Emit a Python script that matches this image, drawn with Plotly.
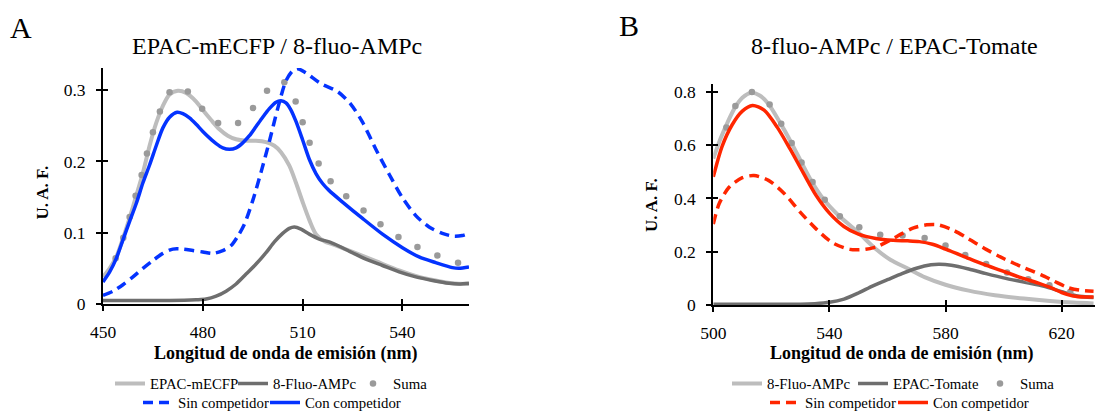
import plotly.graph_objects as go

# ---------------- Panel A data (EPAC-mECFP / 8-fluo-AMPc) ----------------
a_mecfp_x = [450, 452, 454, 456, 458, 460, 462, 464, 466, 468, 470, 472.5, 475, 478, 480, 482.5, 485, 487.5,
             490, 493, 496, 499, 501.5, 503.5, 506, 508, 510, 512, 514, 516.5, 519.5, 525, 532, 539, 545, 550, 555, 560]
a_mecfp_y = [0.038, 0.050, 0.066, 0.092, 0.121, 0.152, 0.184, 0.222, 0.254, 0.278, 0.294, 0.299, 0.296, 0.284,
             0.272, 0.258, 0.245, 0.236, 0.231, 0.229, 0.229, 0.227, 0.222, 0.213, 0.194, 0.170, 0.143, 0.118,
             0.098, 0.088, 0.083, 0.073, 0.060, 0.047, 0.038, 0.033, 0.029, 0.028]

a_fluo_x = [450, 460, 470, 478, 481, 484, 487, 490, 493, 496, 499, 501.5, 504, 506, 507.5, 509.5, 512, 515, 518,
            521, 524, 529, 534, 539, 544, 549, 554, 557, 560]
a_fluo_y = [0.005, 0.005, 0.005, 0.006, 0.007, 0.011, 0.018, 0.028, 0.042, 0.056, 0.072, 0.087, 0.099, 0.106,
            0.108, 0.105, 0.098, 0.091, 0.087, 0.081, 0.074, 0.063, 0.054, 0.045, 0.038, 0.033, 0.029, 0.028, 0.029]

a_suma_x = [453.8, 456.1, 458.0, 459.8, 461.6, 463.2, 465.0, 467.1, 470.0, 475.5, 479.8, 484.6, 490.6, 495.1,
            499.3, 504.5, 507.9, 510.0, 512.1, 514.8, 518.4, 523.1, 528.3, 533.4, 538.8, 544.5, 550.5, 556.7]
a_suma_y = [0.064, 0.093, 0.122, 0.152, 0.181, 0.211, 0.241, 0.270, 0.297, 0.298, 0.274, 0.254, 0.254, 0.275,
            0.299, 0.311, 0.284, 0.255, 0.226, 0.197, 0.172, 0.151, 0.131, 0.112, 0.094, 0.080, 0.068, 0.058]

a_sin_x = [450, 453, 456, 459, 462, 465, 468, 471, 474, 477, 480, 483, 486, 488.5, 490.5, 492.5, 495, 497.5, 500,
           502.5, 505, 507, 508.5, 511, 515.5, 520.5, 524.5, 528, 532, 536, 540, 544, 548, 552, 555.5, 558, 560]
a_sin_y = [0.012, 0.018, 0.027, 0.038, 0.050, 0.061, 0.071, 0.077, 0.077, 0.075, 0.073, 0.071, 0.075, 0.082,
           0.095, 0.112, 0.145, 0.185, 0.228, 0.274, 0.313, 0.327, 0.330, 0.324, 0.309, 0.298, 0.280, 0.255,
           0.217, 0.182, 0.149, 0.124, 0.108, 0.099, 0.095, 0.096, 0.099]

a_con_x = [450, 452, 454, 456, 458, 460, 462, 464, 466, 468, 470, 472.3, 474, 476, 478, 480, 482, 484, 486, 488,
           490, 492, 494, 496, 498, 500, 502, 503.5, 505, 506.5, 508, 510, 512, 514, 516, 518, 522, 528, 534, 540,
           545, 550, 555, 557, 560]
a_con_y = [0.031, 0.045, 0.064, 0.090, 0.116, 0.141, 0.170, 0.195, 0.222, 0.247, 0.262, 0.269, 0.267, 0.261,
           0.252, 0.242, 0.233, 0.225, 0.219, 0.217, 0.219, 0.226, 0.236, 0.249, 0.262, 0.274, 0.283, 0.285,
           0.282, 0.272, 0.256, 0.230, 0.203, 0.183, 0.169, 0.159, 0.143, 0.120, 0.098, 0.079, 0.066, 0.058,
           0.051, 0.050, 0.052]

# ---------------- Panel B data (8-fluo-AMPc / EPAC-Tomate) ----------------
b_fluo_x = [500, 502.5, 505, 507.5, 510, 513, 516, 519, 523, 527, 530.5, 534, 538, 543, 550, 556, 561, 567, 573,
            580, 588, 597, 607, 616, 624, 631]
b_fluo_y = [0.550, 0.625, 0.688, 0.742, 0.778, 0.797, 0.787, 0.755, 0.685, 0.607, 0.533, 0.462, 0.397, 0.338,
            0.272, 0.210, 0.170, 0.137, 0.104, 0.076, 0.054, 0.037, 0.024, 0.015, 0.009, 0.006]

b_tom_x = [500, 520, 530, 535, 540, 545, 550, 555, 560, 565, 570, 575, 578, 582, 588, 594, 600, 607, 614, 620,
           625, 631]
b_tom_y = [0.003, 0.003, 0.003, 0.005, 0.010, 0.022, 0.045, 0.072, 0.095, 0.118, 0.138, 0.151, 0.153, 0.149,
           0.135, 0.118, 0.102, 0.086, 0.070, 0.050, 0.035, 0.028]

b_suma_x = [504.5, 507.6, 513.3, 519.4, 523.4, 527.0, 530.4, 534.2, 538.4, 543.6, 550.3, 557.5, 565.2, 572.8,
            580.0, 586.8, 594.0, 601.2, 608.5, 615.8, 623.0]
b_suma_y = [0.667, 0.747, 0.800, 0.753, 0.681, 0.608, 0.535, 0.462, 0.395, 0.333, 0.292, 0.264, 0.261, 0.252,
            0.223, 0.188, 0.154, 0.122, 0.097, 0.074, 0.050]

b_sin_x = [500, 502, 505.5, 510, 514, 519, 524.5, 530, 535.5, 541, 547, 552.5, 557, 561.5, 565, 569, 573.5, 577,
           582.5, 588, 594, 600.5, 607, 613, 617.5, 622, 626, 631]
b_sin_y = [0.304, 0.380, 0.443, 0.478, 0.486, 0.468, 0.418, 0.348, 0.285, 0.234, 0.209, 0.209, 0.222, 0.247,
           0.268, 0.290, 0.301, 0.302, 0.282, 0.248, 0.209, 0.172, 0.140, 0.113, 0.089, 0.066, 0.056, 0.052]

b_con_x = [500, 503, 506.5, 510, 513.5, 517.5, 522, 526.5, 531, 535.5, 540, 545, 550, 556, 562, 567, 571, 575.5,
           580, 586, 592.5, 599, 606, 612, 616.5, 620, 624, 628, 631]
b_con_y = [0.481, 0.595, 0.677, 0.728, 0.749, 0.732, 0.668, 0.585, 0.496, 0.410, 0.345, 0.295, 0.266, 0.250,
           0.243, 0.241, 0.238, 0.228, 0.210, 0.184, 0.155, 0.130, 0.103, 0.082, 0.064, 0.047, 0.034, 0.030, 0.030]

# tick labels
a_xticks = [450, 480, 510, 540]
a_yticks = [0, 0.1, 0.2, 0.3]
a_yticktext = ["0", "0.1", "0.2", "0.3"]
b_xticks = [500, 540, 580, 620]
b_yticks = [0, 0.2, 0.4, 0.6, 0.8]
b_yticktext = ["0", "0.2", "0.4", "0.6", "0.8"]

# ---------------- styling ----------------
W, H = 1095, 414
FONT = "Liberation Serif"
BLUE = "#0433FF"
RED = "#FF2600"
LG = "#BDBDBD"
DG = "#6E6E6E"
DOT = "#9A9A9A"

fig = go.Figure()


def add_line(x, y, name, color, xa, ya, legend, dash=None, width=3.5):
    fig.add_trace(go.Scatter(x=x, y=y, mode="lines", name=name, xaxis=xa, yaxis=ya, legend=legend,
                             line=dict(color=color, width=width, dash=dash, shape="spline", smoothing=0.8)))


def add_dots(x, y, name, xa, ya, legend):
    fig.add_trace(go.Scatter(x=x, y=y, mode="markers", name=name, xaxis=xa, yaxis=ya, legend=legend,
                             marker=dict(color=DOT, size=6.5, line=dict(width=0))))


# Panel A
add_line(a_mecfp_x, a_mecfp_y, "EPAC-mECFP", LG, "x", "y", "legend", width=4)
add_line(a_fluo_x, a_fluo_y, "8-Fluo-AMPc", DG, "x", "y", "legend2", width=3.5)
add_dots(a_suma_x, a_suma_y, "Suma", "x", "y", "legend3")
add_line(a_sin_x, a_sin_y, "Sin competidor", BLUE, "x", "y", "legend4", dash="10px,6px", width=3.5)
add_line(a_con_x, a_con_y, "Con competidor", BLUE, "x", "y", "legend5", width=3.5)

# Panel B
add_line(b_fluo_x, b_fluo_y, "8-Fluo-AMPc", LG, "x2", "y2", "legend6", width=4)
add_line(b_tom_x, b_tom_y, "EPAC-Tomate", DG, "x2", "y2", "legend7", width=3.5)
add_dots(b_suma_x, b_suma_y, "Suma", "x2", "y2", "legend8")
add_line(b_sin_x, b_sin_y, "Sin competidor", RED, "x2", "y2", "legend9", dash="10px,6px", width=3.5)
add_line(b_con_x, b_con_y, "Con competidor", RED, "x2", "y2", "legend10", width=3.5)

# invisible traces for overlay axes (inside half of the crossing ticks)
fig.add_trace(go.Scatter(x=[None], y=[None], xaxis="x3", yaxis="y3", showlegend=False, hoverinfo="skip"))
fig.add_trace(go.Scatter(x=[None], y=[None], xaxis="x4", yaxis="y4", showlegend=False, hoverinfo="skip"))

axis_common = dict(showline=True, linecolor="black", linewidth=2, ticks="outside", ticklen=5, tickwidth=2,
                   tickcolor="black", showgrid=False, zeroline=False, fixedrange=True, automargin=False,
                   tickfont=dict(family=FONT, size=17.5, color="black"))
inside_common = dict(showline=False, ticks="inside", ticklen=5, tickwidth=2, tickcolor="black",
                     showgrid=False, zeroline=False, showticklabels=False, automargin=False)

a_xr = [450, 560]
a_yr = [0, 0.331]
b_xr = [500, 631.5]
b_yr = [0, 0.83]

a_xdom = [103 / W, 469 / W]
a_ydom = [(H - 304) / H, (H - 68) / H]
b_xdom = [713.3 / W, 1.0]
b_ydom = [(H - 305) / H, (H - 84) / H]

fig.update_layout(
    width=W, height=H, margin=dict(l=0, r=0, t=0, b=0, autoexpand=False),
    paper_bgcolor="white", plot_bgcolor="white",
    font=dict(family=FONT, color="black"),
    xaxis=dict(axis_common, domain=a_xdom, range=a_xr, anchor="y", tickvals=a_xticks, ticklabelstandoff=6),
    yaxis=dict(axis_common, domain=a_ydom, range=a_yr, anchor="x", tickvals=a_yticks, ticktext=a_yticktext,
               ticklabelstandoff=7),
    xaxis2=dict(axis_common, domain=b_xdom, range=b_xr, anchor="y2", tickvals=b_xticks, ticklabelstandoff=6),
    yaxis2=dict(axis_common, domain=b_ydom, range=b_yr, anchor="x2", tickvals=b_yticks, ticktext=b_yticktext,
                ticklabelstandoff=7),
    xaxis3=dict(inside_common, overlaying="x", anchor="y3", range=a_xr, tickvals=a_xticks),
    yaxis3=dict(inside_common, overlaying="y", anchor="x3", range=a_yr, tickvals=a_yticks),
    xaxis4=dict(inside_common, overlaying="x2", anchor="y4", range=b_xr, tickvals=b_xticks),
    yaxis4=dict(inside_common, overlaying="y2", anchor="x4", range=b_yr, tickvals=b_yticks),
    showlegend=True,
)

# one legend per entry, placed by the left edge of its text (text starts ~42 px after legend x)
leg_common = dict(orientation="h", xanchor="left", yanchor="middle", bgcolor="rgba(0,0,0,0)",
                  font=dict(family=FONT, size=14.8, color="black"), itemwidth=30, borderwidth=0)
ROW1, ROW2 = 384, 403
leg_pos = {
    "legend": (152, ROW1), "legend2": (275, ROW1), "legend3": (395, ROW1),
    "legend4": (180, ROW2), "legend5": (307, ROW2),
    "legend6": (769, ROW1), "legend7": (895, ROW1), "legend8": (1022, ROW1),
    "legend9": (807, ROW2), "legend10": (935, ROW2),
}
fig.update_layout({k: dict(leg_common, x=(tx - 42) / W, y=(H - ty) / H) for k, (tx, ty) in leg_pos.items()})

ann = []


def txt(x_px, y_px, text, size, bold=False, angle=0):
    ann.append(dict(x=x_px / W, y=(H - y_px) / H, xref="paper", yref="paper", text=text, showarrow=False,
                    xanchor="center", yanchor="middle", textangle=angle,
                    font=dict(family=FONT, size=size, color="black", weight="bold" if bold else "normal")))


txt(21, 28, "A", 30)
txt(629, 25, "B", 30)
txt(276.5, 46, "EPAC-mECFP / 8-fluo-AMPc", 24)
txt(894.5, 46, "8-fluo-AMPc / EPAC-Tomate", 24)
txt(285.5, 353, "Longitud de onda de emisión (nm)", 18, bold=True)
txt(901.5, 353, "Longitud de onda de emisión (nm)", 18, bold=True)
txt(42, 192.5, "U. A. F.", 17, bold=True, angle=-90)
txt(651, 205, "U. A. F.", 17, bold=True, angle=-90)
fig.update_layout(annotations=ann)

fig.write_html("out.html")
